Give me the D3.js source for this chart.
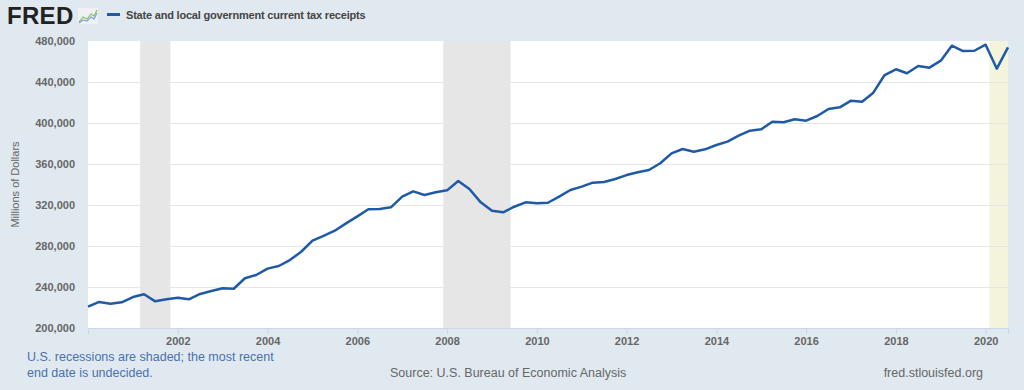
<!DOCTYPE html>
<html>
<head>
<meta charset="utf-8">
<script src="https://cdn.jsdelivr.net/npm/d3@7"></script>
<style>
  body { margin: 0; background: #e1e9f0; }
  svg { display: block; font-family: "Liberation Sans", Arial, sans-serif; }
</style>
</head>
<body>
<div id="chart"></div>
<script>
// quarterly series, 2000Q1 .. 2020Q3, millions of dollars
const startYear = 2000;
const values = [
  220800, 225400, 223700, 225100, 230200, 232900, 226000, 228000,
  229600, 228000, 233200, 236100, 238700, 238300, 248500, 251700,
  257900, 260500, 266300, 274400, 285200, 289800, 294900, 302100,
  308900, 315800, 316100, 317700, 328100, 333300, 329800, 332400,
  334300, 343400, 335600, 322600, 314400, 312900, 318300, 322600,
  321600, 322200, 328100, 334600, 337900, 341800, 342400, 345400,
  349200, 351900, 354100, 360700, 370400, 374600, 372000, 374300,
  378500, 381800, 387600, 392500, 393800, 401300, 400700, 403600,
  402300, 406800, 413700, 415300, 421800, 420800, 429600, 446800,
  452400, 448500, 455600, 454000, 460800, 475400, 470200, 470500,
  476400, 453000, 473800
];
const dates = values.map((v, i) => new Date(startYear + Math.floor(i / 4), (i % 4) * 3, 1));
const yTicks = [200000, 240000, 280000, 320000, 360000, 400000, 440000, 480000];
const xTickYears = [2002, 2004, 2006, 2008, 2010, 2012, 2014, 2016, 2018, 2020];
const recessions = [
  [new Date(2001, 2, 1), new Date(2001, 10, 1)],
  [new Date(2007, 11, 1), new Date(2009, 5, 1)]
];
const currentRecession = [new Date(2020, 1, 1), new Date(2020, 6, 1)];

const width = 1024, height = 390;
const margin = { top: 41, right: 16, bottom: 62, left: 88 };
const innerWidth = width - margin.left - margin.right;
const innerHeight = height - margin.top - margin.bottom;

const svg = d3.select('#chart').append('svg')
  .attr('width', width)
  .attr('height', height);

svg.append('rect').attr('width', width).attr('height', height).attr('fill', '#e1e9f0');

const g = svg.append('g').attr('transform', `translate(${margin.left},${margin.top})`);

const xScale = d3.scaleTime()
  .domain([dates[0], dates[dates.length - 1]])
  .range([0, innerWidth]);
const yScale = d3.scaleLinear()
  .domain([200000, 480000])
  .range([innerHeight, 0]);

// plot background
g.append('rect').attr('width', innerWidth).attr('height', innerHeight).attr('fill', '#ffffff');

// recession shading
g.selectAll('.recession')
  .data(recessions)
  .enter().append('rect')
  .attr('class', 'recession')
  .attr('x', d => xScale(d[0]))
  .attr('width', d => xScale(d[1]) - xScale(d[0]))
  .attr('y', 0)
  .attr('height', innerHeight)
  .attr('fill', '#e6e6e6');
g.append('rect')
  .attr('x', xScale(currentRecession[0]))
  .attr('width', xScale(currentRecession[1]) - xScale(currentRecession[0]))
  .attr('y', 0)
  .attr('height', innerHeight)
  .attr('fill', '#f4f4dc');

// gridlines + y labels
const yAxis = g.append('g')
  .call(d3.axisLeft(yScale).tickValues(yTicks).tickSize(-innerWidth).tickFormat(d3.format(',')));
yAxis.select('.domain').remove();
yAxis.selectAll('.tick line').attr('stroke', '#e6e6e6').attr('stroke-width', 1)
  .filter(d => d === 200000 || d === 480000).remove();
yAxis.selectAll('.tick text')
  .attr('x', -13)
  .attr('fill', '#666666')
  .style('font-size', '11px')
  .style('font-weight', 'bold');

// x axis
const xAxis = g.append('g')
  .attr('transform', `translate(0,${innerHeight})`)
  .call(d3.axisBottom(xScale)
    .tickValues(xTickYears.map(y => new Date(y, 0, 1)))
    .tickFormat(d3.timeFormat('%Y'))
    .tickSize(6)
    .tickPadding(3));
xAxis.select('.domain').attr('stroke', '#ccd6eb');
xAxis.selectAll('.tick line').attr('stroke', '#ccd6eb');
xAxis.selectAll('.tick text')
  .attr('fill', '#666666')
  .style('font-size', '11px')
  .style('font-weight', 'bold');

// series line
const line = d3.line()
  .x((d, i) => xScale(dates[i]))
  .y(d => yScale(d));
g.append('path')
  .datum(values)
  .attr('fill', 'none')
  .attr('stroke', '#1f5aa6')
  .attr('stroke-width', 2.5)
  .attr('stroke-linejoin', 'round')
  .attr('d', line);

// Y axis label
svg.append('text')
  .attr('transform', 'rotate(-90)')
  .attr('x', -(margin.top + innerHeight / 2))
  .attr('y', 19)
  .attr('text-anchor', 'middle')
  .attr('fill', '#666666')
  .style('font-size', '11px')
  .text('Millions of Dollars');

// FRED logo
svg.append('text')
  .attr('x', 7)
  .attr('y', 24)
  .attr('fill', '#222222')
  .style('font-size', '24px')
  .style('font-weight', '900')
  .style('letter-spacing', '0.3px')
  .text('FRED');
const icon = svg.append('g').attr('transform', 'translate(78,8)');
icon.append('rect').attr('width', 20).attr('height', 16).attr('fill', '#eef2f5');
icon.append('polyline')
  .attr('points', '1,14 5,9 9,11 13,6 16,8 19,2')
  .attr('fill', 'none').attr('stroke', '#8fbf6e').attr('stroke-width', 1.2);
icon.append('polyline')
  .attr('points', '1,15 5,12 9,13 13,9 16,11 19,5')
  .attr('fill', 'none').attr('stroke', '#7fa6cc').attr('stroke-width', 1.2);

// legend
svg.append('line')
  .attr('x1', 107).attr('x2', 120)
  .attr('y1', 14.5).attr('y2', 14.5)
  .attr('stroke', '#1f5aa6')
  .attr('stroke-width', 3);
svg.append('text')
  .attr('x', 126)
  .attr('y', 18.5)
  .attr('fill', '#444444')
  .style('font-size', '11px')
  .style('font-weight', 'bold')
  .style('letter-spacing', '-0.2px')
  .text('State and local government current tax receipts');

// footer notes
svg.append('text')
  .attr('x', 27).attr('y', 361)
  .attr('fill', '#4a70ad')
  .style('font-size', '12.5px')
  .text('U.S. recessions are shaded; the most recent');
svg.append('text')
  .attr('x', 27).attr('y', 377)
  .attr('fill', '#4a70ad')
  .style('font-size', '12.5px')
  .text('end date is undecided.');
svg.append('text')
  .attr('x', 390).attr('y', 377)
  .attr('fill', '#666666')
  .style('font-size', '12.5px')
  .text('Source: U.S. Bureau of Economic Analysis');
svg.append('text')
  .attr('x', 983).attr('y', 377)
  .attr('text-anchor', 'end')
  .attr('fill', '#666666')
  .style('font-size', '12.5px')
  .text('fred.stlouisfed.org');
</script>
</body>
</html>
